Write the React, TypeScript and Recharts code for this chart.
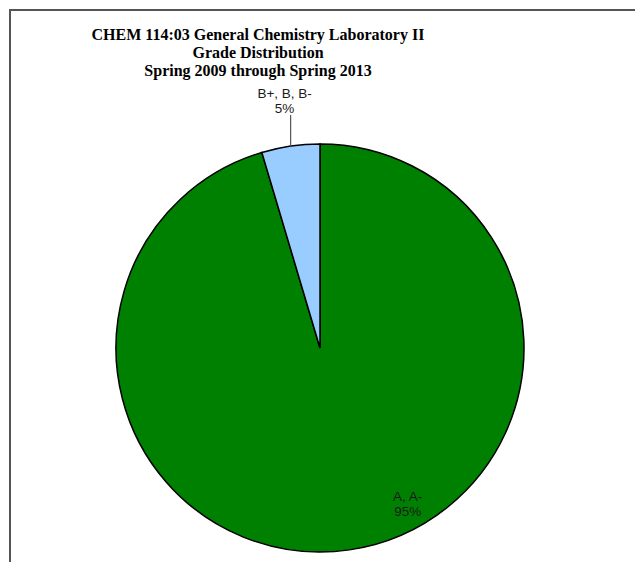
import { PieChart, Pie, Cell } from 'recharts'

const GRADES = ['A, A-', 'B+, B, B-']
const SHARES = [95.4, 4.6]
const COLORS = ['#008000', '#99ccff']
const TITLE_LINES = [
  'CHEM 114:03 General Chemistry Laboratory II',
  'Grade Distribution',
  'Spring 2009 through Spring 2013',
]

const data = GRADES.map((name, i) => ({ name, value: SHARES[i], color: COLORS[i] }))

const RAD = Math.PI / 180

function GradeLabel(props: any) {
  const { cx, cy, outerRadius, midAngle, percent, name, index } = props
  const pct = `${Math.round(percent * 100)}%`
  const textStyle = { fontFamily: 'Arial, "Liberation Sans", sans-serif', fontSize: 13.5, fill: '#1a1a1a' }
  if (index === 1) {
    // small slice: label above the pie with a leader line
    const ex = cx + outerRadius * Math.cos(-midAngle * RAD)
    const ey = cy + outerRadius * Math.sin(-midAngle * RAD)
    const top = cy - outerRadius
    return (
      <g>
        <line x1={ex} y1={ey} x2={ex} y2={top - 29} stroke="#555" strokeWidth={1.2} />
        <text x={ex - 6} y={top - 51} textAnchor="middle" dominantBaseline="central" style={textStyle}>
          {name}
        </text>
        <text x={ex - 6} y={top - 36} textAnchor="middle" dominantBaseline="central" style={textStyle}>
          {pct}
        </text>
      </g>
    )
  }
  const x = cx + outerRadius * 0.43
  const y = cy + outerRadius * 0.73
  return (
    <g>
      <text x={x} y={y} textAnchor="middle" dominantBaseline="central" style={textStyle}>
        {name}
      </text>
      <text x={x} y={y + 15} textAnchor="middle" dominantBaseline="central" style={textStyle}>
        {pct}
      </text>
    </g>
  )
}

export default function App() {
  return (
    <div style={{ position: 'relative', width: 635, height: 554, background: '#fff' }}>
      <div
        style={{
          position: 'absolute',
          left: 1,
          top: 1,
          right: 0,
          bottom: 0,
          borderLeft: '2px solid #555',
          borderTop: '2px solid #555',
        }}
      />
      <div
        style={{
          position: 'absolute',
          left: 0,
          top: 18,
          width: 500,
          textAlign: 'center',
          fontFamily: '"Times New Roman", "Liberation Serif", serif',
          fontWeight: 'bold',
          fontSize: 16,
          lineHeight: '18px',
          color: '#000',
        }}
      >
        {TITLE_LINES.map((t) => (
          <div key={t}>{t}</div>
        ))}
      </div>
      <div style={{ position: 'absolute', left: 0, top: 0 }}>
        <PieChart width={635} height={554} margin={{ top: 0, right: 0, bottom: 0, left: 0 }}>
          <Pie
            data={data}
            dataKey="value"
            nameKey="name"
            cx={312}
            cy={340}
            outerRadius={204}
            startAngle={90}
            endAngle={-270}
            stroke="#000"
            strokeWidth={1.5}
            label={GradeLabel}
            labelLine={false}
            isAnimationActive={false}
          >
            {data.map((entry, i) => (
              <Cell key={i} fill={entry.color} />
            ))}
          </Pie>
        </PieChart>
      </div>
    </div>
  )
}
